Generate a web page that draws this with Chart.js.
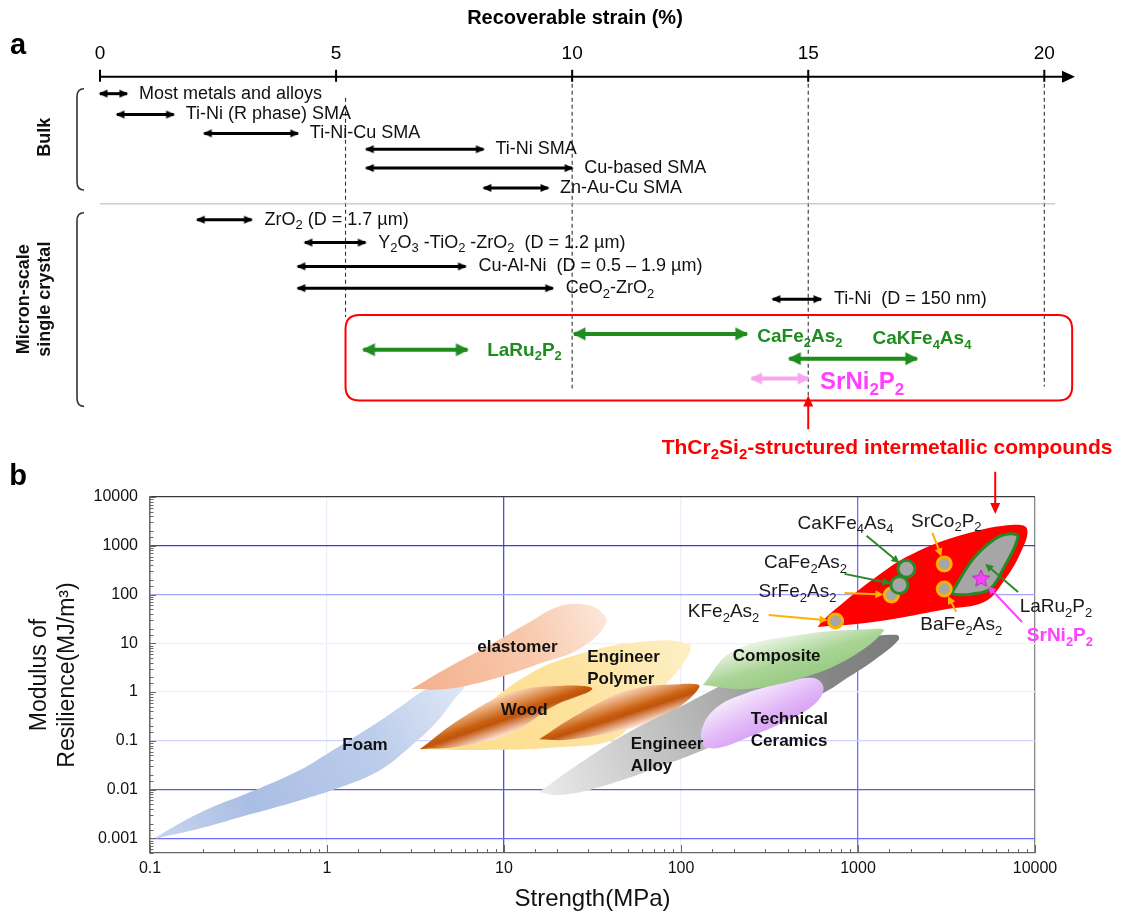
<!DOCTYPE html>
<html>
<head>
<meta charset="utf-8">
<script src="https://cdn.jsdelivr.net/npm/chart.js@4.4.1/dist/chart.umd.min.js"></script>
<style>
  html, body { margin: 0; padding: 0; background: #fff; }
  #boxA { position: absolute; left: 0; top: 0; }
  #boxB { position: absolute; left: 0; top: 460px; }
</style>
</head>
<body>
<div id="boxA"><canvas id="chartA" width="1123" height="462"></canvas></div>
<div id="boxB"><canvas id="chartB" width="1123" height="456"></canvas></div>
<script>
const FONT = '"Liberation Sans", Arial, Helvetica, sans-serif';

// ---------- panel a : recoverable strain (%) ----------
const strainTicks = [0, 5, 10, 15, 20];

const bulkNames = ['Most metals and alloys', 'Ti-Ni (R phase) SMA', 'Ti-Ni-Cu SMA', 'Ti-Ni SMA', 'Cu-based SMA', 'Zn-Au-Cu SMA'];
const bulkMin = [0, 0.36, 2.21, 5.64, 5.64, 8.13];
const bulkMax = [0.57, 1.56, 4.19, 8.12, 10.0, 9.49];
const bulkRow = [0.85, 1.9, 2.85, 3.65, 4.6, 5.6];

const microNames = ['ZrO_2 (D = 1.7 µm)', 'Y_2O_3 -TiO_2 -ZrO_2  (D = 1.2 µm)', 'Cu-Al-Ni  (D = 0.5 – 1.9 µm)', 'CeO_2-ZrO_2', 'Ti-Ni  (D = 150 nm)'];
const microMin = [2.06, 4.34, 4.19, 4.19, 14.25];
const microMax = [3.21, 5.62, 7.74, 9.59, 15.27];
const microRow = [7.2, 8.35, 9.55, 10.65, 11.2];

const thcrNames = ['CaFe_2As_2', 'LaRu_2P_2', 'CaKFe_4As_4', 'SrNi_2P_2'];
const thcrMin = [10.04, 5.58, 14.6, 13.8];
const thcrMax = [13.7, 7.78, 17.3, 15.0];
const thcrRow = [12.95, 13.75, 14.2, 15.2];
const thcrLabelX = [13.92, 8.2, 16.36, 15.25];
const thcrLabelRow = [13.1, 13.8, 13.2, 15.4];

// ---------- panel b : resilience vs strength (log-log) ----------
const foam = [[0.1, 0.00091], [0.193, 0.0034], [0.368, 0.0089], [0.7, 0.025], [1.04, 0.059], [1.75, 0.19], [2.58, 0.49],
  [3.56, 1.1], [4.62, 1.76], [5.76, 1.94], [6.0, 1.33], [5.26, 0.72], [4.06, 0.22], [2.93, 0.074], [1.99, 0.025],
  [1.18, 0.011], [0.7, 0.006], [0.368, 0.0031], [0.193, 0.0016], [0.115, 0.00104]];
const elastomer = [[3.0, 1.15], [4.7, 3.0], [8.3, 9.2], [13.9, 27], [19.8, 55], [26.6, 64], [34, 50], [37.8, 26],
  [26.6, 7.6], [15.8, 3.8], [8.3, 1.76], [4.7, 1.15]];
const polymer = [[3.34, 0.067], [6.4, 0.31], [13.9, 2.34], [26.6, 6.0], [58, 10.6], [111, 9.7], [107, 4.8],
  [78, 1.15], [58, 0.35], [42, 0.108], [20.5, 0.074], [7.3, 0.065]];
const wood1 = [[3.34, 0.067], [5.84, 0.3], [11.2, 1.0], [21.4, 1.35], [31.5, 1.15], [18.8, 0.5], [11.2, 0.15], [5.84, 0.078]];
const wood2 = [[15.8, 0.108], [26.6, 0.36], [51, 1.1], [97.6, 1.45], [127, 1.27], [78, 0.3], [40.8, 0.15], [22.5, 0.105]];
const alloy = [[15.8, 0.0089], [25, 0.029], [51, 0.151], [111, 0.62], [212, 2.03], [462, 6.6], [900, 12], [1650, 15],
  [1700, 12], [1300, 5.2], [880, 2.0], [620, 0.9], [357, 0.39], [164, 0.09], [75, 0.029], [34.5, 0.0112], [20.5, 0.0077]];
const composite = [[133, 1.39], [194, 6.6], [462, 14.8], [1222, 19.7], [1400, 18], [900, 5], [462, 1.85], [235, 1.15]];
const ceramics = [[135, 0.074], [130, 0.151], [153, 0.43], [226, 0.91], [381, 1.53], [561, 1.94], [639, 1.2],
  [561, 0.54], [381, 0.242], [242, 0.119], [164, 0.071]];
const thcrZone = [[591, 21.6], [1222, 27.4], [3190, 50.6], [5160, 70.5], [6610, 181], [8340, 750], [9020, 2224],
  [7620, 2686], [4080, 1754], [1977, 650], [1222, 209], [747, 50.6], [623, 27.4]];
const laRuZone = [[3410, 113], [4475, 538], [5960, 1386], [7230, 1754], [8020, 1524], [6610, 336], [5570, 130], [4475, 103], [3500, 100]];

const compounds = ['KFe_2As_2', 'SrFe_2As_2', 'CaFe_2As_2', 'CaKFe_4As_4', 'SrCo_2P_2', 'BaFe_2As_2'];
const compoundStrength = [747, 1545, 1714, 1877, 3070, 3070];
const compoundResilience = [28.7, 98, 157, 336, 425, 130];
const srNi2P2Strength = 4960;
const srNi2P2Resilience = 209;

const noteText = ['CaKFe_4As_4', 'SrCo_2P_2', 'CaFe_2As_2', 'SrFe_2As_2', 'KFe_2As_2', 'BaFe_2As_2', 'LaRu_2P_2'];
const noteAt = [[850, 2818], [3155, 3097], [505, 446], [455, 113], [174, 44], [3830, 23.8], [13130, 55.6]];
const noteFrom = [[1117, 1597], [2630, 1841], [839, 265], [839, 108], [313, 38], [3590, 44], [8020, 113]];
const noteTo = [[1877, 336], [3070, 425], [1714, 157], [1545, 98], [747, 28.7], [3070, 130], [5230, 425]];

const blobNames = ['elastomer', 'Engineer', 'Polymer', 'Wood', 'Foam', 'Composite', 'Engineer', 'Alloy', 'Technical', 'Ceramics'];
const blobNameX = [11.9, 29.5, 29.5, 13, 1.64, 347, 52, 52, 248, 248];
const blobNameY = [8.4, 5.2, 1.85, 0.43, 0.082, 5.5, 0.0855, 0.030, 0.279, 0.0986];
const blobNameAlign = ['center', 'left', 'left', 'center', 'center', 'center', 'left', 'left', 'left', 'left'];

// ---------- helpers ----------
const GREEN = '#1e8c1e';
const ORANGE = '#ffb000';
const MAGENTA = '#ff40ff';

// text with _n subscripts and ^n superscripts
function richText(ctx, text, x, y, size, weight, color, align) {
  const parts = [];
  const re = /([_^])(\d)/g;
  let last = 0, m;
  while ((m = re.exec(text))) {
    if (m.index > last) parts.push({ t: text.slice(last, m.index), k: 0 });
    parts.push({ t: m[2], k: m[1] === '_' ? 1 : -1 });
    last = re.lastIndex;
  }
  if (last < text.length) parts.push({ t: text.slice(last), k: 0 });
  const small = Math.round(size * 0.7);
  const fontOf = k => weight + ' ' + (k ? small : size) + 'px ' + FONT;
  let w = 0;
  parts.forEach(p => { ctx.font = fontOf(p.k); p.w = ctx.measureText(p.t).width; w += p.w; });
  let cx = align === 'center' ? x - w / 2 : align === 'right' ? x - w : x;
  ctx.fillStyle = color;
  ctx.textBaseline = 'middle';
  ctx.textAlign = 'left';
  parts.forEach(p => {
    ctx.font = fontOf(p.k);
    ctx.fillText(p.t, cx, y + p.k * size * 0.32);
    cx += p.w;
  });
}

function arrowLine(ctx, x1, y1, x2, y2, color, width, len, half) {
  const a = Math.atan2(y2 - y1, x2 - x1);
  const c = Math.cos(a), s = Math.sin(a);
  ctx.strokeStyle = color;
  ctx.fillStyle = color;
  ctx.lineWidth = width;
  ctx.beginPath();
  ctx.moveTo(x1, y1);
  ctx.lineTo(x2 - c * len * 0.8, y2 - s * len * 0.8);
  ctx.stroke();
  ctx.beginPath();
  ctx.moveTo(x2, y2);
  ctx.lineTo(x2 - c * len + s * half, y2 - s * len - c * half);
  ctx.lineTo(x2 - c * len - s * half, y2 - s * len + c * half);
  ctx.closePath();
  ctx.fill();
}

// arrow head as a point image, tip at the centre of the canvas
function headImage(color, len, half) {
  const c = document.createElement('canvas');
  c.width = Math.ceil(len * 2 + 4);
  c.height = Math.ceil(half * 2 + 2);
  const g = c.getContext('2d');
  const cx = c.width / 2, cy = c.height / 2;
  g.fillStyle = color;
  g.beginPath();
  g.moveTo(cx + 1.5, cy);
  g.lineTo(cx + 1.5 - len, cy - half);
  g.lineTo(cx + 1.5 - len, cy + half);
  g.closePath();
  g.fill();
  return c;
}

function starImage(size, color, edge) {
  const c = document.createElement('canvas');
  c.width = size; c.height = size;
  const g = c.getContext('2d');
  const r = size / 2 - 1, ri = r * 0.45;
  g.beginPath();
  for (let i = 0; i < 10; i++) {
    const rr = i % 2 ? ri : r;
    const a = -Math.PI / 2 + i * Math.PI / 5;
    g.lineTo(size / 2 + rr * Math.cos(a), size / 2 + rr * Math.sin(a));
  }
  g.closePath();
  g.fillStyle = color; g.fill();
  g.strokeStyle = edge; g.lineWidth = 1; g.stroke();
  return c;
}

function roundBox(ctx, x0, y0, x1, y1, r) {
  ctx.beginPath();
  ctx.moveTo(x0 + r, y0);
  ctx.lineTo(x1 - r, y0);
  ctx.quadraticCurveTo(x1, y0, x1, y0 + r);
  ctx.lineTo(x1, y1 - r);
  ctx.quadraticCurveTo(x1, y1, x1 - r, y1);
  ctx.lineTo(x0 + r, y1);
  ctx.quadraticCurveTo(x0, y1, x0, y1 - r);
  ctx.lineTo(x0, y0 + r);
  ctx.quadraticCurveTo(x0, y0, x0 + r, y0);
  ctx.closePath();
}

function bracket(ctx, x, y0, y1) {
  ctx.beginPath();
  ctx.moveTo(x + 7, y0);
  ctx.quadraticCurveTo(x, y0, x, y0 + 8);
  ctx.lineTo(x, y1 - 8);
  ctx.quadraticCurveTo(x, y1, x + 7, y1);
  ctx.stroke();
}

function decadeLabel(v) {
  const e = Math.log10(v);
  const r = Math.round(e);
  if (Math.abs(e - r) > 1e-9) return '';
  return r >= 0 ? String(Math.pow(10, r)) : Math.pow(10, r).toFixed(-r);
}

Chart.defaults.font.family = FONT;

// ================= panel a =================
const heads = {
  black: headImage('#000', 9, 4),
  green: headImage(GREEN, 13, 6.5),
  pink: headImage('#f7a6ee', 12, 6)
};

function arrowSet(from, to, row, color, width, head) {
  return {
    data: [{ x: from, y: row }, { x: to, y: row }],
    showLine: true,
    borderColor: color,
    borderWidth: width,
    borderCapStyle: 'butt',
    pointStyle: head,
    pointRotation: c => (c.dataIndex === 0 ? 180 : 0),
    pointRadius: 3,
    clip: false
  };
}

const aSets = [];
bulkNames.forEach((n, i) => aSets.push(arrowSet(bulkMin[i], bulkMax[i], bulkRow[i], '#000', 3, heads.black)));
microNames.forEach((n, i) => aSets.push(arrowSet(microMin[i], microMax[i], microRow[i], '#000', 3, heads.black)));
thcrNames.forEach((n, i) => {
  const pink = n.indexOf('SrNi') === 0;
  aSets.push(arrowSet(thcrMin[i], thcrMax[i], thcrRow[i], pink ? '#f7a6ee' : GREEN, 4, pink ? heads.pink : heads.green));
});

const panelA = {
  id: 'panelA',
  beforeDatasetsDraw(chart) {
    const { ctx, scales: { x, y } } = chart;
    ctx.save();
    // dashed guides at 5, 10, 15, 20 %
    const guideAt = [5.2, 10, 15, 20];
    const guideTop = [1.05, 0, 0, 0];
    const guideEnd = [12.1, 15.7, 16.3, 15.6];
    ctx.strokeStyle = '#333';
    ctx.lineWidth = 1.1;
    ctx.setLineDash([4, 3]);
    guideAt.forEach((v, i) => {
      ctx.beginPath();
      ctx.moveTo(x.getPixelForValue(v), y.getPixelForValue(guideTop[i]));
      ctx.lineTo(x.getPixelForValue(v), y.getPixelForValue(guideEnd[i]));
      ctx.stroke();
    });
    ctx.setLineDash([]);
    // separator between bulk and micron-scale
    ctx.strokeStyle = '#b4b4b4';
    ctx.lineWidth = 1;
    ctx.beginPath();
    ctx.moveTo(x.getPixelForValue(0), y.getPixelForValue(6.4));
    ctx.lineTo(x.getPixelForValue(20.23), y.getPixelForValue(6.4));
    ctx.stroke();
    // red frame around ThCr2Si2 compounds
    ctx.strokeStyle = '#ff0000';
    ctx.lineWidth = 2;
    roundBox(ctx, x.getPixelForValue(5.2), y.getPixelForValue(12.0), x.getPixelForValue(20.59), y.getPixelForValue(16.3), 14);
    ctx.stroke();
    ctx.restore();
  },
  afterDatasetsDraw(chart) {
    const { ctx, chartArea: area, scales: { x, y } } = chart;
    ctx.save();
    // axis with arrow
    const ay = area.top;
    const x0 = x.getPixelForValue(0), xEnd = x.getPixelForValue(20.65);
    ctx.strokeStyle = '#000';
    ctx.fillStyle = '#000';
    ctx.lineWidth = 2;
    ctx.beginPath(); ctx.moveTo(x0, ay); ctx.lineTo(xEnd - 10, ay); ctx.stroke();
    ctx.beginPath(); ctx.moveTo(xEnd, ay); ctx.lineTo(xEnd - 13, ay - 6); ctx.lineTo(xEnd - 13, ay + 6); ctx.closePath(); ctx.fill();
    strainTicks.forEach(v => {
      const px = x.getPixelForValue(v);
      ctx.beginPath(); ctx.moveTo(px, ay - 7); ctx.lineTo(px, ay + 5); ctx.stroke();
    });
    richText(ctx, 'Recoverable strain (%)', x.getPixelForValue(10.06), 18, 20, 'bold', '#000', 'center');
    richText(ctx, 'a', 18, 46, 29, 'bold', '#000', 'center');

    // row labels
    bulkNames.forEach((n, i) => richText(ctx, n, x.getPixelForValue(bulkMax[i]) + 12, y.getPixelForValue(bulkRow[i]), 18, 'normal', '#111', 'left'));
    microNames.forEach((n, i) => richText(ctx, n, x.getPixelForValue(microMax[i]) + 13, y.getPixelForValue(microRow[i]), 18, 'normal', '#111', 'left'));
    thcrNames.forEach((n, i) => {
      const pink = n.indexOf('SrNi') === 0;
      richText(ctx, n, x.getPixelForValue(thcrLabelX[i]), y.getPixelForValue(thcrLabelRow[i]),
        pink ? 24 : 19, 'bold', pink ? MAGENTA : GREEN, 'left');
    });

    // group brackets and titles
    ctx.strokeStyle = '#333';
    ctx.lineWidth = 1.6;
    bracket(ctx, 77, y.getPixelForValue(0.6), y.getPixelForValue(5.7));
    bracket(ctx, 77, y.getPixelForValue(6.85), y.getPixelForValue(16.6));
    const vertical = (txt, cx, cy) => {
      ctx.save(); ctx.translate(cx, cy); ctx.rotate(-Math.PI / 2);
      richText(ctx, txt, 0, 0, 18, 'bold', '#111', 'center');
      ctx.restore();
    };
    vertical('Bulk', 45, y.getPixelForValue(3.05));
    vertical('Micron-scale', 24, y.getPixelForValue(11.2));
    vertical('single crystal', 45, y.getPixelForValue(11.2));

    // pointer to panel b
    arrowLine(ctx, x.getPixelForValue(15), y.getPixelForValue(17.75), x.getPixelForValue(15), y.getPixelForValue(16.05), '#ff0000', 2, 11, 5);
    richText(ctx, 'ThCr_2Si_2-structured intermetallic compounds', x.getPixelForValue(16.67), y.getPixelForValue(18.7), 21, 'bold', '#ff0000', 'center');
    ctx.restore();
  }
};

new Chart(document.getElementById('chartA'), {
  type: 'scatter',
  data: { datasets: aSets },
  options: {
    responsive: false,
    animation: false,
    events: [],
    layout: { padding: { left: 100, right: 48, top: 30, bottom: 6 } },
    plugins: { legend: { display: false }, tooltip: { enabled: false } },
    scales: {
      x: {
        type: 'linear', position: 'top', min: 0, max: 20.65,
        afterBuildTicks: s => { s.ticks = strainTicks.map(v => ({ value: v })); },
        grid: { display: false, drawTicks: false },
        border: { display: false },
        ticks: { color: '#000', font: { size: 19 }, padding: 12, maxRotation: 0 }
      },
      y: { type: 'linear', reverse: true, min: 0, max: 19.0, display: false }
    }
  },
  plugins: [panelA]
});

// ================= panel b =================
function blobFill(points, mode, stops) {
  return c => {
    const chart = c.chart;
    const sx = chart.scales.x, sy = chart.scales.y;
    if (!chart.chartArea || !sx || !sy) return stops[0][1];
    const px = points.map(p => [sx.getPixelForValue(p[0]), sy.getPixelForValue(p[1])]);
    const a = px[0];
    let b = px[0], best = -1;
    px.forEach(p => {
      const d = (p[0] - a[0]) ** 2 + (p[1] - a[1]) ** 2;
      if (d > best) { best = d; b = p; }
    });
    let g;
    if (mode === 'along') {
      g = chart.ctx.createLinearGradient(a[0], a[1], b[0], b[1]);
    } else {
      const dx = b[0] - a[0], dy = b[1] - a[1], L = Math.hypot(dx, dy);
      const nx = dy / L, ny = -dx / L;
      const cx = (a[0] + b[0]) / 2, cy = (a[1] + b[1]) / 2;
      let lo = Infinity, hi = -Infinity;
      px.forEach(p => {
        const t = (p[0] - cx) * nx + (p[1] - cy) * ny;
        lo = Math.min(lo, t); hi = Math.max(hi, t);
      });
      g = chart.ctx.createLinearGradient(cx + nx * hi, cy + ny * hi, cx + nx * lo, cy + ny * lo);
    }
    stops.forEach(s => g.addColorStop(s[0], s[1]));
    return g;
  };
}

function blobSet(points, fill, z, border, borderWidth) {
  const closed = points.concat([points[0]]);
  return {
    data: closed.map(p => ({ x: p[0], y: p[1] })),
    showLine: true,
    fill: 'shape',
    backgroundColor: fill,
    borderColor: border || 'rgba(0,0,0,0)',
    borderWidth: borderWidth || 0,
    pointRadius: 0,
    tension: 0.4,
    order: 100 - z
  };
}

const starImg = starImage(20, MAGENTA, '#b62db6');
const greenRing = compounds.map(n => n === 'CaFe_2As_2' || n === 'CaKFe_4As_4');

const bSets = [
  blobSet(foam, blobFill(foam, 'along', [[0, '#c9d7ee'], [0.3, '#aabee4'], [0.7, '#bccdeb'], [1, '#e1e8f5']]), 1),
  blobSet(elastomer, blobFill(elastomer, 'along', [[0, '#f3b08d'], [0.6, '#f8c8ab'], [1, '#fce6d9']]), 2),
  blobSet(polymer, blobFill(polymer, 'along', [[0, '#fddc86'], [0.6, '#fde39f'], [1, '#fdf0c6']]), 3),
  blobSet(wood1, blobFill(wood1, 'across', [[0, '#f9cfae'], [0.5, '#c9600f'], [0.62, '#bf530c'], [1, '#fde2d2']]), 4),
  blobSet(wood2, blobFill(wood2, 'across', [[0, '#f9cfae'], [0.5, '#c9600f'], [0.62, '#bf530c'], [1, '#fde2d2']]), 5),
  blobSet(alloy, blobFill(alloy, 'along', [[0, '#ebebeb'], [0.45, '#b4b4b4'], [0.8, '#858585'], [1, '#7c7c7c']]), 6),
  blobSet(composite, blobFill(composite, 'across', [[0, '#e4f2dc'], [0.55, '#a9d495'], [1, '#9acb86']]), 7),
  blobSet(ceramics, blobFill(ceramics, 'across', [[0, '#f5e6fc'], [0.6, '#e2b9f8'], [1, '#d8a4f5']]), 8),
  blobSet(thcrZone, '#ff0000', 9),
  blobSet(laRuZone, '#a6a6a6', 10, '#238a23', 3),
  {
    data: compoundStrength.map((v, i) => ({ x: v, y: compoundResilience[i] })),
    showLine: false,
    pointStyle: 'circle',
    pointRadius: greenRing.map(g => (g ? 8.5 : 7)),
    pointBackgroundColor: '#a6a6a6',
    pointBorderColor: greenRing.map(g => (g ? '#2a8a2a' : ORANGE)),
    pointBorderWidth: 3,
    order: 1
  },
  {
    data: [{ x: srNi2P2Strength, y: srNi2P2Resilience }],
    showLine: false,
    pointStyle: starImg,
    pointRadius: 8,
    order: 0
  }
];

const yGridColors = { '4': '#3a3a3a', '3': '#3c3cdc', '2': '#a4a4ff', '1': '#f1f1fb', '0': '#f1f1fb', '-1': '#d2d2ff', '-2': '#5a5af0', '-3': '#6b6bff' };
const xGridColors = { '-1': '#666', '0': '#ededfb', '1': '#4b4bef', '2': '#ededfb', '3': '#6e6eff', '4': '#888' };
function gridColor(v, map) {
  const e = Math.log10(v), r = Math.round(e);
  if (Math.abs(e - r) > 1e-9) return 'rgba(0,0,0,0)';
  return map[String(r)] || 'rgba(0,0,0,0)';
}

const panelB = {
  id: 'panelB',
  afterDraw(chart) {
    const { ctx, chartArea: area, scales: { x, y } } = chart;
    ctx.save();
    // inward tick marks
    ctx.strokeStyle = '#666';
    ctx.lineWidth = 1;
    y.ticks.forEach(t => {
      if (t.value < y.min || t.value > y.max) return;
      const py = Math.round(y.getPixelForValue(t.value)) + 0.5;
      const len = decadeLabel(t.value) ? 6 : 3.5;
      ctx.beginPath(); ctx.moveTo(area.left, py); ctx.lineTo(area.left + len, py); ctx.stroke();
    });
    x.ticks.forEach(t => {
      if (t.value < x.min || t.value > x.max) return;
      const px = Math.round(x.getPixelForValue(t.value)) + 0.5;
      const len = decadeLabel(t.value) ? 8 : 4;
      ctx.beginPath(); ctx.moveTo(px, area.bottom); ctx.lineTo(px, area.bottom - len); ctx.stroke();
    });

    // material family names
    blobNames.forEach((n, i) => richText(ctx, n, x.getPixelForValue(blobNameX[i]), y.getPixelForValue(blobNameY[i]), 17, 'bold', '#111', blobNameAlign[i]));

    // compound annotations
    noteText.forEach((n, i) => {
      const green = n === 'CaKFe_4As_4' || n === 'CaFe_2As_2' || n === 'LaRu_2P_2';
      const col = green ? '#2a8a2a' : ORANGE;
      const x1 = x.getPixelForValue(noteFrom[i][0]), y1 = y.getPixelForValue(noteFrom[i][1]);
      let x2 = x.getPixelForValue(noteTo[i][0]), y2 = y.getPixelForValue(noteTo[i][1]);
      if (n !== 'LaRu_2P_2') {
        const d = Math.hypot(x2 - x1, y2 - y1), gap = green ? 9 : 8;
        x2 -= (x2 - x1) / d * gap; y2 -= (y2 - y1) / d * gap;
      }
      arrowLine(ctx, x1, y1, x2, y2, col, 2, 8, 4);
      richText(ctx, n, x.getPixelForValue(noteAt[i][0]), y.getPixelForValue(noteAt[i][1]), 19, 'normal', '#1a1a1a', 'center');
    });
    // SrNi2P2
    {
      const x1 = x.getPixelForValue(8450), y1 = y.getPixelForValue(27.4);
      const x2 = x.getPixelForValue(srNi2P2Strength), y2 = y.getPixelForValue(srNi2P2Resilience);
      const d = Math.hypot(x2 - x1, y2 - y1);
      arrowLine(ctx, x1, y1, x2 - (x2 - x1) / d * 10, y2 - (y2 - y1) / d * 10, MAGENTA, 2, 8, 4);
      richText(ctx, 'SrNi_2P_2', x.getPixelForValue(13830), y.getPixelForValue(14.1), 19, 'bold', MAGENTA, 'center');
    }
    // arrow from panel a
    arrowLine(ctx, x.getPixelForValue(5960), y.getPixelForValue(32900), x.getPixelForValue(5960), y.getPixelForValue(4500), '#ff0000', 2, 11, 5);
    richText(ctx, 'b', 18, 17, 29, 'bold', '#000', 'center');
    ctx.restore();
  }
};

new Chart(document.getElementById('chartB'), {
  type: 'scatter',
  data: { datasets: bSets },
  options: {
    responsive: false,
    animation: false,
    events: [],
    layout: { padding: { left: 0, right: 88, top: 37, bottom: 0 } },
    plugins: { legend: { display: false }, tooltip: { enabled: false } },
    scales: {
      x: {
        type: 'logarithmic', position: 'bottom', min: 0.1, max: 10000,
        afterFit: s => { s.height = 63; },
        grid: { color: c => gridColor(c.tick.value, xGridColors), lineWidth: 1.3, drawTicks: false },
        border: { color: '#666', width: 1.3 },
        ticks: { autoSkip: false, maxRotation: 0, padding: 6, color: '#111', font: { size: 16 }, callback: v => decadeLabel(v) },
        title: { display: true, text: 'Strength(MPa)', color: '#111', font: { size: 24 }, padding: { top: 0, bottom: 2 } }
      },
      y: {
        type: 'logarithmic', min: 0.0005, max: 10000,
        afterFit: s => { s.width = 150; },
        grid: { color: c => gridColor(c.tick.value, yGridColors), lineWidth: 1.3, drawTicks: false },
        border: { color: '#666', width: 1.3 },
        ticks: { autoSkip: false, padding: 12, color: '#111', font: { size: 16 }, callback: v => decadeLabel(v) },
        title: { display: true, text: ['Modulus of', 'Resilience(MJ/m³)'], color: '#111', font: { size: 23 }, padding: { top: 26, bottom: 0 } }
      }
    }
  },
  plugins: [panelB]
});
</script>
</body>
</html>
